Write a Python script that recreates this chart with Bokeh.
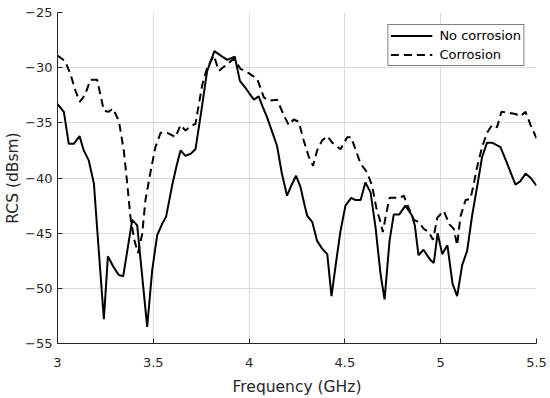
from bokeh.plotting import figure
from bokeh.models import Range1d, FixedTicker, Legend, LegendItem
from bokeh.embed import file_html
from bokeh.resources import INLINE

# No corrosion (solid)
freq_nc = [3.000, 3.033, 3.059, 3.085, 3.115, 3.137, 3.163, 3.190, 3.215, 3.242,
           3.263, 3.290, 3.320, 3.343, 3.390, 3.416, 3.468, 3.494, 3.520, 3.545,
           3.567, 3.598, 3.620, 3.642, 3.668, 3.695, 3.720, 3.750, 3.781, 3.819,
           3.860, 3.886, 3.925, 3.952, 3.980, 4.000, 4.025, 4.050, 4.070, 4.094,
           4.120, 4.146, 4.170, 4.198, 4.220, 4.245, 4.268, 4.290, 4.303, 4.330,
           4.355, 4.381, 4.408, 4.430, 4.455, 4.477, 4.503, 4.533, 4.555, 4.582,
           4.607, 4.634, 4.660, 4.686, 4.707, 4.733, 4.755, 4.784, 4.816, 4.850,
           4.865, 4.884, 4.910, 4.945, 4.964, 4.984, 5.008, 5.035, 5.062, 5.086,
           5.112, 5.138, 5.164, 5.190, 5.216, 5.242, 5.268, 5.290, 5.312, 5.347,
           5.390, 5.415, 5.443, 5.470, 5.500]
rcs_nc = [-33.3, -34.0, -36.9, -36.9, -36.2, -37.5, -38.4, -40.5, -46.5, -52.8,
          -47.1, -48.0, -48.8, -48.9, -43.8, -44.3, -53.5, -48.4, -45.2, -44.2,
          -43.5, -40.7, -39.0, -37.5, -38.0, -37.8, -37.4, -34.0, -30.3, -28.5,
          -29.0, -29.3, -29.0, -31.2, -31.8, -32.3, -32.9, -32.6, -33.5, -34.5,
          -35.8, -37.1, -39.5, -41.6, -40.7, -39.8, -40.8, -42.5, -43.4, -44.0,
          -45.7, -46.4, -46.9, -50.7, -47.5, -44.8, -42.5, -41.8, -42.0, -42.0,
          -40.4, -41.3, -44.5, -48.7, -51.0, -45.7, -43.3, -43.3, -42.5, -43.4,
          -44.3, -47.0, -46.5, -47.4, -47.7, -45.0, -46.9, -46.1, -49.6, -50.7,
          -47.9, -46.6, -43.4, -40.8, -38.1, -36.8, -36.8, -37.0, -37.2, -38.7,
          -40.6, -40.3, -39.6, -40.0, -40.7]

# Corrosion (dashed)
freq_c = [3.000, 3.040, 3.068, 3.094, 3.116, 3.143, 3.172, 3.207, 3.242, 3.268,
          3.289, 3.320, 3.346, 3.364, 3.381, 3.402, 3.420, 3.442, 3.459, 3.485,
          3.511, 3.538, 3.573, 3.616, 3.642, 3.668, 3.695, 3.720, 3.755, 3.781,
          3.816, 3.842, 3.877, 3.920, 3.955, 3.998, 4.042, 4.077, 4.103, 4.146,
          4.181, 4.207, 4.233, 4.259, 4.285, 4.312, 4.334, 4.355, 4.381, 4.408,
          4.434, 4.477, 4.512, 4.533, 4.555, 4.582, 4.616, 4.642, 4.665, 4.686,
          4.698, 4.715, 4.733, 4.760, 4.790, 4.807, 4.830, 4.860, 4.886, 4.911,
          4.938, 4.960, 4.982, 5.016, 5.046, 5.068, 5.086, 5.103, 5.130, 5.155,
          5.173, 5.190, 5.216, 5.242, 5.268, 5.294, 5.317, 5.355, 5.390, 5.416,
          5.443, 5.469, 5.500]
rcs_c = [-28.9, -29.4, -30.6, -32.1, -33.1, -32.5, -31.1, -31.1, -33.9, -34.0,
         -33.7, -34.8, -37.5, -40.5, -43.6, -45.7, -46.8, -45.1, -42.0, -39.5,
         -37.2, -35.9, -35.9, -36.3, -35.2, -35.7, -35.3, -35.1, -31.6, -30.0,
         -28.9, -30.3, -29.8, -29.2, -30.1, -30.5, -31.0, -32.7, -33.0, -32.9,
         -34.3, -35.2, -34.7, -34.9, -36.6, -38.1, -38.9, -37.5, -36.6, -36.2,
         -36.8, -37.4, -36.3, -36.3, -37.4, -38.7, -39.5, -40.7, -42.8, -44.0,
         -44.9, -43.3, -41.8, -41.8, -41.8, -41.6, -42.6, -43.8, -44.0, -44.6,
         -44.9, -45.6, -43.6, -43.0, -44.2, -44.6, -46.1, -43.5, -42.0, -41.9,
         -40.5, -39.0, -37.2, -35.9, -35.2, -35.4, -34.0, -34.1, -34.2, -34.4,
         -34.0, -35.2, -36.4]

x_ticks = [3, 3.5, 4, 4.5, 5, 5.5]
y_ticks = [-55, -50, -45, -40, -35, -30, -25]
x_tick_labels = {3: "3", 3.5: "3.5", 4: "4", 4.5: "4.5", 5: "5", 5.5: "5.5"}

FONT = "DejaVu Sans"
TXT = "#262626"

p = figure(width=550, height=398, output_backend="svg", toolbar_location=None,
           x_range=Range1d(3, 5.5), y_range=Range1d(-55, -25),
           min_border_left=57, min_border_right=14, min_border_top=12,
           min_border_bottom=55)
p.outline_line_color = None
p.background_fill_color = "white"

r1 = p.line(freq_nc, rcs_nc, line_color="black", line_width=2)
r2 = p.line(freq_c, rcs_c, line_color="black", line_width=2, line_dash="8 5")

for ax in (p.xaxis[0], p.yaxis[0]):
    ax.axis_line_color = TXT
    ax.axis_line_width = 1
    ax.major_tick_line_color = TXT
    ax.major_tick_in = 5
    ax.major_tick_out = 0
    ax.minor_tick_line_color = None
    ax.major_label_text_font = FONT
    ax.major_label_text_font_size = "13px"
    ax.major_label_text_color = TXT
    ax.axis_label_text_font = FONT
    ax.axis_label_text_font_size = "15.5px"
    ax.axis_label_text_font_style = "normal"
    ax.axis_label_text_color = TXT

p.xaxis.ticker = FixedTicker(ticks=x_ticks)
p.xaxis.major_label_overrides = x_tick_labels
p.yaxis.ticker = FixedTicker(ticks=y_ticks)
p.xaxis.axis_label = "Frequency (GHz)"
p.yaxis.axis_label = "RCS (dBsm)"
p.xaxis.major_label_standoff = 14
p.xaxis.axis_label_standoff = 8
p.yaxis.major_label_standoff = 5
p.yaxis.axis_label_standoff = 0

p.grid.grid_line_color = "#dcdcdc"
p.grid.grid_line_width = 1

legend = Legend(items=[LegendItem(label="No corrosion", renderers=[r1]),
                       LegendItem(label="Corrosion", renderers=[r2])],
                location="top_right", margin=12, padding=2, spacing=2,
                glyph_width=42, glyph_height=17, label_height=17,
                label_standoff=7, border_line_color="black", border_line_width=1,
                background_fill_color="white", background_fill_alpha=1,
                label_text_font=FONT, label_text_font_size="13px",
                label_text_color="black")
p.add_layout(legend)

open("out.html", "w").write(file_html(p, INLINE))
